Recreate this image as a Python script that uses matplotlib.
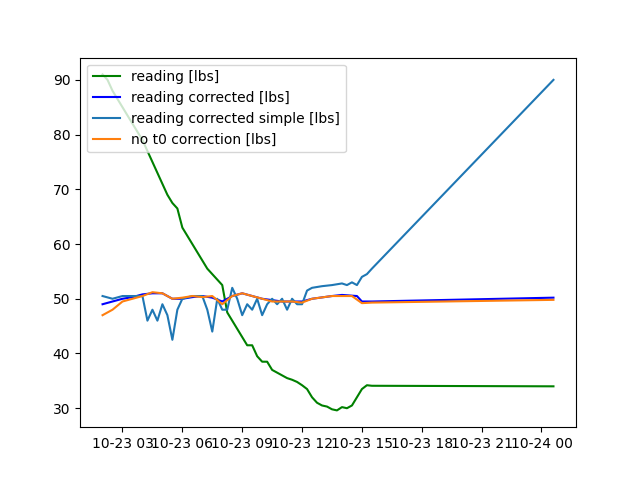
import matplotlib
matplotlib.use("Agg")
import matplotlib.pyplot as plt
import matplotlib.dates as mdates
import pandas as pd

base = pd.Timestamp("2023-10-23")

g_h = [2.0,2.25,2.5,2.75,3.0,3.25,3.5,3.75,4.0,4.25,4.5,4.75,5.0,5.25,5.5,5.75,6.0,6.25,6.5,6.75,7.0,7.25,7.5,7.75,8.0,8.25,8.5,8.75,9.0,9.25,9.5,9.75,10.0,10.25,10.5,10.75,11.0,11.25,11.5,11.75,12.0,12.25,12.5,12.75,13.0,13.25,13.5,13.75,14.0,14.25,14.5,14.75,15.0,15.25,15.5,24.6]
g_v = [91,90,88,86.5,85,83.5,82,80.5,79,77,75,73,71,69,67.5,66.5,63,61.5,60,58.5,57,55.5,54.5,53.5,52.5,47.5,46,44.5,43,41.5,41.5,39.5,38.5,38.5,37,36.5,36,35.5,35.2,34.8,34.2,33.5,32,31,30.5,30.3,29.8,29.6,30.2,30.0,30.5,32,33.5,34.2,34.1,34.0]

b_h = [2.0,2.5,3.0,3.5,4.0,4.5,5.0,5.5,6.0,6.5,7.0,7.5,8.0,8.5,9.0,9.5,10.0,11.0,12.0,12.5,13.5,14.0,14.75,15.0,15.5,24.6]
b_v = [49,49.5,50,50.3,50.8,51,51,50,50,50.3,50.5,50.2,49.5,50.5,51,50.5,50,49.5,49.5,50,50.5,50.7,50.5,49.5,49.5,50.2]

o_h = [2.0,2.5,3.0,3.5,4.0,4.5,5.0,5.5,6.0,6.5,7.0,7.5,8.0,8.5,9.0,9.5,10.5,11.5,12.0,12.5,13.5,14.5,15.0,15.5,24.6]
o_v = [47,48,49.5,50,50.5,51.2,51,50,50.2,50.5,50.3,50.5,49,50.5,51,50.5,49.5,49.5,49.3,50,50.5,50.5,49.2,49.3,49.8]

s_h = [2.0,2.5,3.0,3.5,4.0,4.25,4.5,4.75,5.0,5.25,5.5,5.75,6.0,6.5,7.0,7.25,7.5,7.75,8.0,8.25,8.5,8.75,9.0,9.25,9.5,9.75,10.0,10.25,10.5,10.75,11.0,11.25,11.5,11.75,12.0,12.25,12.5,13.0,13.5,14.0,14.25,14.5,14.75,15.0,15.25,15.5,24.6]
s_v = [50.5,50,50.5,50.5,50.5,46,48,46,49,47,42.5,48,50,50.5,50.5,48,44,50,48,48,52,50,47,49,48,50,47,49,50,49,50,48,50,49,49,51.5,52,52.3,52.5,52.8,52.5,53,52.5,54,54.5,55.5,90]

def t(hs):
    return [base + pd.Timedelta(hours=h) for h in hs]

fig, ax = plt.subplots(figsize=(6.4, 4.8), dpi=100)
ax.plot(t(g_h), g_v, color="green", label="reading [lbs]")
ax.plot(t(b_h), b_v, color="blue", label="reading corrected [lbs]")
ax.plot(t(s_h), s_v, color="tab:blue", label="reading corrected simple [lbs]")
ax.plot(t(o_h), o_v, color="tab:orange", label="no t0 correction [lbs]")
ax.xaxis.set_major_locator(mdates.HourLocator(byhour=[0, 3, 6, 9, 12, 15, 18, 21]))
ax.xaxis.set_major_formatter(mdates.DateFormatter("%m-%d %H"))
ax.legend(loc="upper left")
fig.savefig("out.png")
